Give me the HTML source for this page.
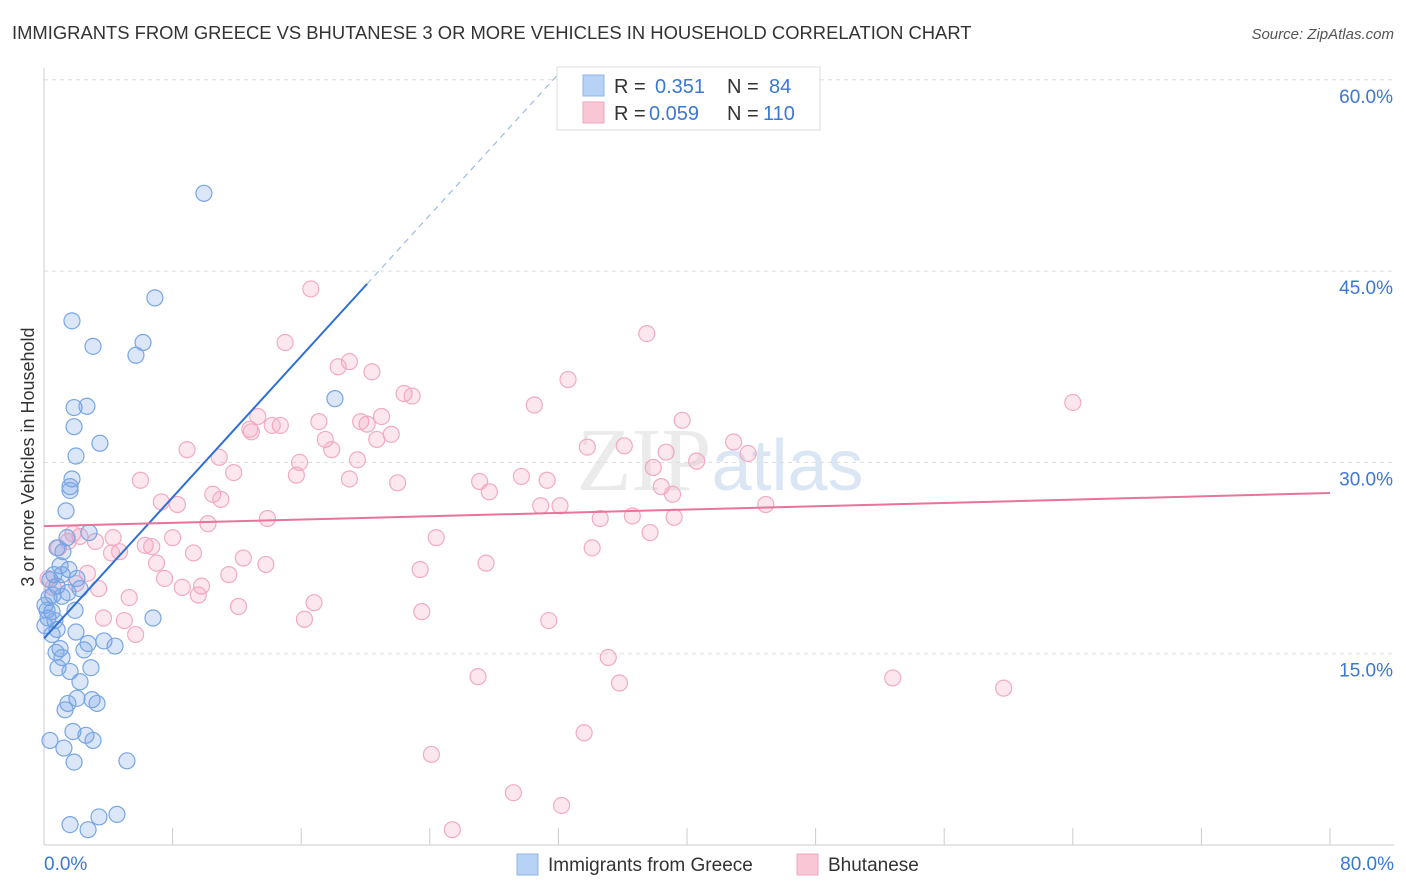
<!DOCTYPE html>
<html><head><meta charset="utf-8">
<style>
body{margin:0;background:#fff;font-family:"Liberation Sans",sans-serif;}
</style></head>
<body>
<svg id="chart" width="1406" height="892" xmlns="http://www.w3.org/2000/svg" style="display:block">
<text x="12" y="39" font-size="18.4" fill="#333">IMMIGRANTS FROM GREECE VS BHUTANESE 3 OR MORE VEHICLES IN HOUSEHOLD CORRELATION CHART</text>
<text x="1394" y="39" font-size="15" fill="#555" font-style="italic" text-anchor="end">Source: ZipAtlas.com</text>
<text x="720" y="490" font-size="90" fill="#ebebeb" text-anchor="middle" font-family="Liberation Serif">ZIP<tspan fill="#dbe6f5" font-family="Liberation Sans" font-size="72">atlas</tspan></text>
<g id="grid"></g><g id="axes"></g><g id="pts"></g><g id="lines"></g>
<text transform="translate(34,457) rotate(-90)" font-size="18" fill="#333" text-anchor="middle">3 or more Vehicles in Household</text>
<g>
<rect x="557" y="67" width="263" height="63" fill="#fff" stroke="#ddd"/>
<rect x="583" y="75" width="21" height="21" fill="#b8d2f5" stroke="#8fb6ea"/>
<rect x="583" y="102" width="21" height="21" fill="#f9c6d6" stroke="#f2a5bf"/>
<text x="614" y="93" font-size="20" fill="#333">R = </text><text x="655" y="93" font-size="20" fill="#3a78d4">0.351</text>
<text x="727" y="93" font-size="20" fill="#333">N = </text><text x="769" y="93" font-size="20" fill="#3a78d4">84</text>
<text x="614" y="120" font-size="20" fill="#333">R = </text><text x="649" y="120" font-size="20" fill="#3a78d4">0.059</text>
<text x="727" y="120" font-size="20" fill="#333">N = </text><text x="763" y="120" font-size="20" fill="#3a78d4">110</text>
</g>
<g>
<rect x="517" y="854" width="21" height="21" fill="#b8d2f5" stroke="#8fb6ea"/>
<text x="548" y="871" font-size="19" fill="#333">Immigrants from Greece</text>
<rect x="797" y="854" width="21" height="21" fill="#f9c6d6" stroke="#f2a5bf"/>
<text x="828" y="871" font-size="19" fill="#333">Bhutanese</text>
</g>
</svg>
<script>
const yTicks=[15,30,45,60];
const yTickLabels=["15.0%","30.0%","45.0%","60.0%"];
const xTicks=[0,8,16,24,32,40,48,56,64,72,80];
const blueX=[9.95,6.9,1.74,3.05,6.16,5.72,18.1,1.87,2.67,1.87,3.48,1.99,1.74,1.62,1.62,1.37,2.8,1.43,0.81,1.18,1.0,1.55,0.62,1.12,2.05,0.37,0.81,2.24,1.49,0.56,0.31,1.12,0.06,1.93,0.5,0.25,6.78,0.81,0.5,1.99,3.73,2.74,4.42,1.0,0.75,2.49,1.12,0.87,2.92,1.62,2.24,2.05,2.99,1.49,3.3,1.31,1.8,2.61,3.05,0.37,1.24,1.87,5.16,4.54,3.42,1.62,2.74,0.19,0.68,0.06];
const blueY=[51.1,42.9,41.1,39.1,39.4,38.4,35.0,34.3,34.4,32.8,31.5,30.5,28.7,28.1,27.8,26.2,24.5,24.1,23.3,23.0,21.9,21.6,21.2,21.2,20.9,20.8,20.3,20.1,19.8,19.6,19.4,19.5,18.8,18.4,18.3,17.8,17.8,16.9,16.5,16.7,16.0,15.8,15.6,15.4,15.1,15.3,14.7,13.9,13.9,13.6,12.8,11.5,11.4,11.1,11.1,10.6,8.9,8.6,8.2,8.2,7.6,6.5,6.6,2.4,2.2,1.6,1.2,18.4,17.6,17.2];
const pinkX=[16.6,37.5,15.0,19.0,18.3,20.4,32.6,22.4,22.9,64.0,30.5,13.3,21.0,17.1,19.7,39.7,12.8,14.7,20.1,14.2,12.9,21.6,20.7,17.5,42.9,33.8,36.1,17.9,8.9,38.7,43.8,10.9,19.5,15.9,40.6,37.9,11.8,15.7,29.7,6.0,31.3,19.0,27.1,22.0,38.4,27.7,39.1,10.5,11.0,7.3,8.3,30.9,32.1,44.9,34.6,36.6,39.2,13.9,10.2,1.8,4.3,3.2,8.0,24.4,37.7,6.3,6.7,0.9,4.2,4.7,34.1,9.3,12.4,7.0,13.8,27.5,23.4,2.7,11.5,7.5,2.0,3.4,8.6,9.8,9.6,5.3,16.8,12.1,23.5,16.2,3.7,5.0,31.4,5.7,35.1,27.0,35.8,52.8,59.7,33.6,24.1,29.2,32.2,25.4,1.5,2.24,0.25,0.56];
const pinkY=[43.6,40.1,39.4,37.9,37.5,37.1,36.5,35.4,35.2,34.7,34.5,33.6,33.6,33.2,33.2,33.3,32.6,32.9,33.0,32.9,32.4,32.2,31.8,31.8,31.6,31.2,31.3,31.0,31.0,30.8,30.7,30.4,30.2,30.0,30.1,29.6,29.2,29.0,28.9,28.6,28.6,28.7,28.5,28.4,28.1,27.7,27.5,27.5,27.1,26.9,26.7,26.6,26.6,26.7,25.6,25.8,25.7,25.6,25.2,24.4,24.1,23.8,24.1,24.1,24.5,23.5,23.4,23.3,22.9,23.0,23.3,22.9,22.5,22.1,22.0,22.1,21.6,21.3,21.2,20.9,20.5,20.1,20.2,20.3,19.6,19.4,19.0,18.7,18.3,17.7,17.8,17.6,17.6,16.5,14.7,13.2,12.7,13.1,12.3,8.8,7.1,4.1,3.1,1.2,23.8,24.2,20.9,20.2];
const blueFit=[16.2,1.383]; const pinkFit=[25.0,0.0325];
const X=v=>44+v/80*1286, Y=v=>845-v/15*191.3;
const NS="http://www.w3.org/2000/svg";
function mk(t,p,a){const e=document.createElementNS(NS,t);for(const k in a)e.setAttribute(k,a[k]);p.appendChild(e);return e;}
const grid=document.getElementById('grid'),axes=document.getElementById('axes'),pts=document.getElementById('pts'),lines=document.getElementById('lines');
yTicks.forEach((t,i)=>{
 const l=mk('line',grid,{x1:44,x2:1394,y1:Y(t),y2:Y(t),stroke:'#ddd','stroke-dasharray':'4,4'});
 
 
 const tx=mk('text',axes,{x:1393,y:Y(t)+23,'font-size':19,fill:'#3a78d4','text-anchor':'end'});
 tx.textContent=yTickLabels[i];
 
 
});
const ax=mk('line',axes,{x1:44,x2:1394,y1:845,y2:845,stroke:'#ccc'});


const ay=mk('line',axes,{x1:44,x2:44,y1:68,y2:845,stroke:'#ccc'});


xTicks.forEach(t=>{const l=mk('line',axes,{x1:X(t),x2:X(t),y1:828,y2:845,stroke:'#ccc'});
 
 });
const x0=mk('text',axes,{x:44,y:870,'font-size':19,fill:'#3a78d4'});x0.textContent='0.0%';


const x1=mk('text',axes,{x:1394,y:870,'font-size':19,fill:'#3a78d4','text-anchor':'end'});x1.textContent='80.0%';


pinkX.forEach((v,i)=>{const c=mk('circle',pts,{cx:X(v),cy:Y(pinkY[i]),r:8,fill:'rgba(245,160,190,0.25)',stroke:'#f2aac2','stroke-width':1.2});
 
 });
blueX.forEach((v,i)=>{const c=mk('circle',pts,{cx:X(v),cy:Y(blueY[i]),r:8,fill:'rgba(110,160,230,0.25)',stroke:'#78a6e2','stroke-width':1.2});
 
 });
const bl=mk('line',lines,{x1:X(0),y1:Y(blueFit[0]),x2:X(20.1),y2:Y(blueFit[0]+blueFit[1]*20.1),stroke:'#2f6fd6','stroke-width':2});


const bd=mk('line',lines,{x1:X(20.1),y1:Y(blueFit[0]+blueFit[1]*20.1),x2:X(31.9),y2:Y(blueFit[0]+blueFit[1]*31.9),stroke:'#9bbbe8','stroke-width':1.2,'stroke-dasharray':'6,5'});


const pl=mk('line',lines,{x1:X(0),y1:Y(pinkFit[0]),x2:X(80),y2:Y(pinkFit[0]+pinkFit[1]*80),stroke:'#e8739b','stroke-width':2});


</script>
</body></html>
